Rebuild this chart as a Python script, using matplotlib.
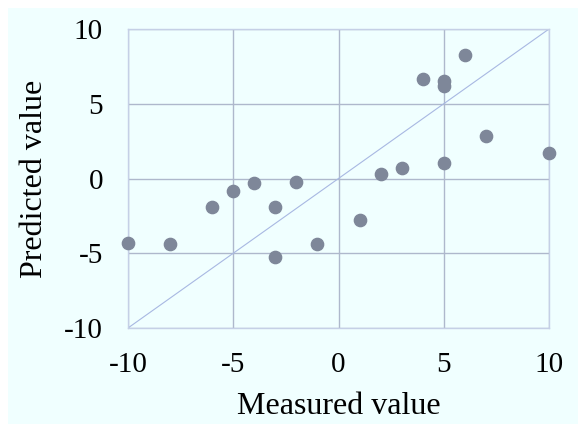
import numpy as np
import matplotlib
matplotlib.use('Agg')
import matplotlib.pyplot as plt
from matplotlib.patches import Rectangle

plt.rcParams['font.family'] = ['Liberation Serif', 'DejaVu Serif']
plt.rcParams['axes.unicode_minus'] = False

measured = [-10, -8, -6, -5, -4, -3, -3, -2, -1, 1, 2, 3, 4, 5, 5, 5, 6, 7, 10]
predicted = [-4.29, -4.36, -1.89, -0.82, -0.32, -1.89, -5.23, -0.21, -4.38, -2.78,
             0.3, 0.72, 6.66, 6.54, 6.19, 1.04, 8.24, 2.82, 1.71]
ticks = [-10, -5, 0, 5, 10]

bg = '#F0FFFF'
grid_col = '#AEB8CC'

fig = plt.figure(figsize=(5.79, 4.24), dpi=100)
fig.patch.set_facecolor('white')
# cyan panel with small white margin at top/left
fig.patches.append(Rectangle((8/579, 0), 1 - 9/579, 1 - 8/424, transform=fig.transFigure,
                             facecolor=bg, edgecolor='none', zorder=-5))

ax = fig.add_axes([128/579, 1 - 328/424, 421/579, 299/424])
ax.set_zorder(1)
ax.set_facecolor(bg)
ax.set_xlim(-10, 10)
ax.set_ylim(-10, 10)
ax.set_xticks(ticks)
ax.set_yticks(ticks)
ax.grid(True, color=grid_col, linewidth=1)
ax.set_axisbelow(True)
for s in ax.spines.values():
    s.set_color('#C5D0E6')
    s.set_linewidth(1)
ax.tick_params(length=0, labelsize=21)
ax.tick_params(axis='x', pad=17)
ax.tick_params(axis='y', pad=18)

ax.plot([-10, 10], [-10, 10], color='#A8B8E2', linewidth=0.8, zorder=2)
ax.scatter(measured, predicted, s=78, color='#7E8799', zorder=3, clip_on=False)

ax.set_xlabel('Measured value', fontsize=23, labelpad=10)
ax.set_ylabel('Predicted value', fontsize=23, labelpad=11)

fig.savefig('out.png', dpi=100, facecolor=fig.get_facecolor())
